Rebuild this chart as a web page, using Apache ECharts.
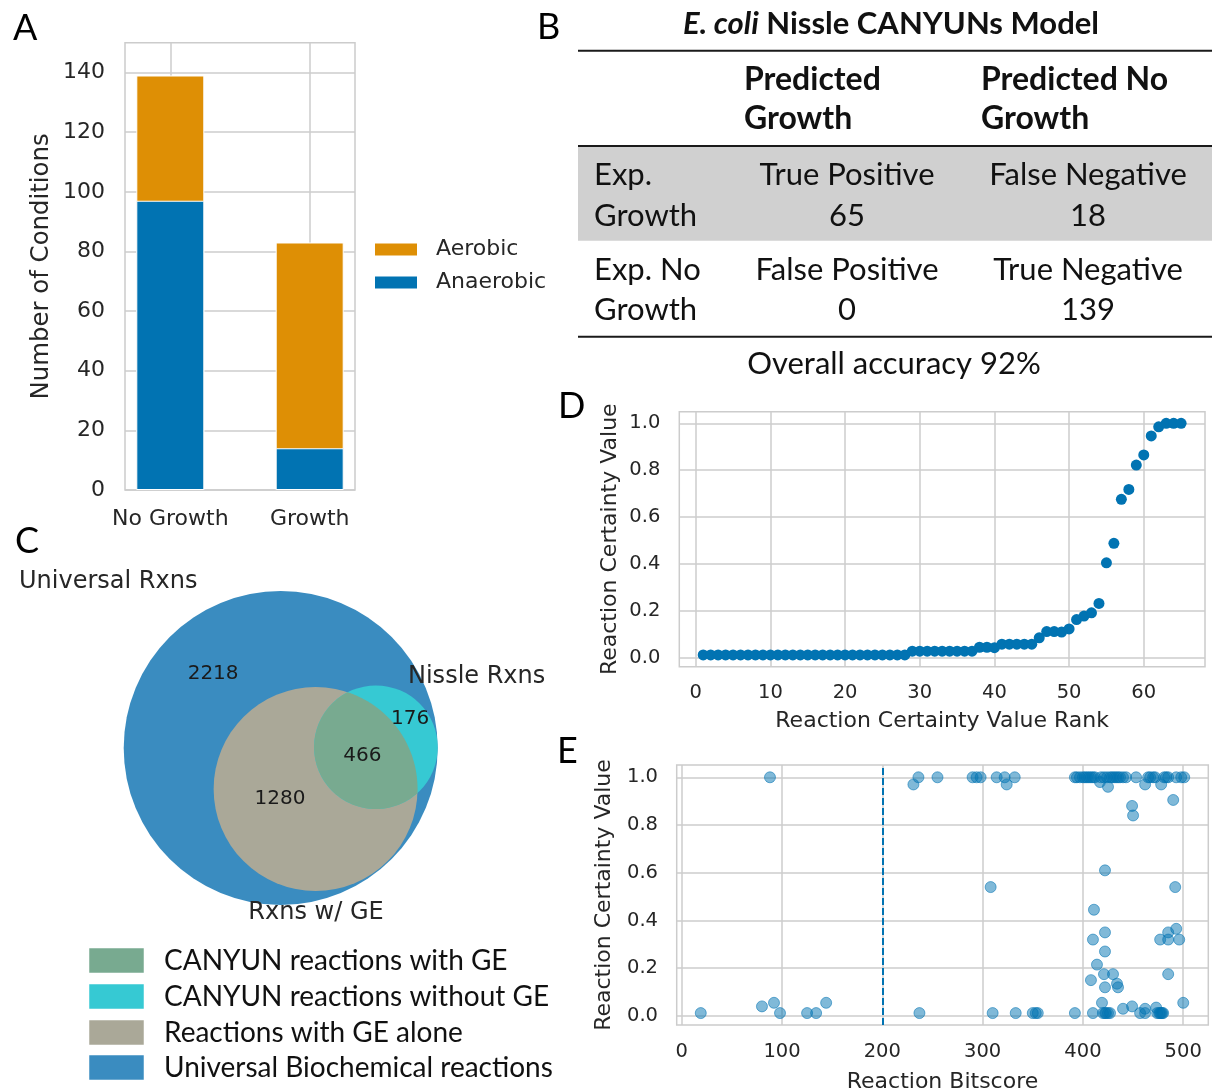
<!DOCTYPE html>
<html>
<head>
<meta charset="utf-8">
<script src="https://cdn.jsdelivr.net/npm/echarts@6/dist/echarts.min.js"></script>
<style>
  html, body { margin: 0; padding: 0; background: #ffffff; }
  #chart { width: 1213px; height: 1091px; }
</style>
</head>
<body>
<div id="chart"></div>
<script>
// ---------- Panel A: growth conditions by oxygen availability ----------
const conditionCategories = ['No Growth', 'Growth'];
const anaerobicCounts = [97, 14];
const aerobicCounts = [42, 69];
const conditionTicks = [0, 20, 40, 60, 80, 100, 120, 140];

// ---------- Panel B: prediction vs experiment ----------
const predictedHeaders = ['Predicted\nGrowth', 'Predicted No\nGrowth'];
const experimentHeaders = ['Exp.\nGrowth', 'Exp. No\nGrowth'];
const outcomeNames = [['True Positive', 'False Negative'], ['False Positive', 'True Negative']];
const outcomeCounts = [[65, 18], [0, 139]];

// ---------- Panel C: reaction sets ----------
const vennSetNames = ['Universal Rxns', 'Rxns w/ GE', 'Nissle Rxns'];
// universal only, with GE only, with GE and in Nissle, in Nissle without GE
const vennRegionCounts = [2218, 1280, 466, 176];
const vennLegendNames = ['CANYUN reactions with GE', 'CANYUN reactions without GE',
                         'Reactions with GE alone', 'Universal Biochemical reactions'];

// ---------- Panel D: certainty values by rank ----------
const rankTicks = [0, 10, 20, 30, 40, 50, 60];
const certaintyTicks = [0, 0.2, 0.4, 0.6, 0.8, 1.0];
const rankedCertainty = [
  0.012, 0.012, 0.012, 0.012, 0.012, 0.012, 0.012, 0.012, 0.012, 0.012,
  0.012, 0.012, 0.012, 0.012, 0.012, 0.012, 0.012, 0.012, 0.012, 0.012,
  0.012, 0.012, 0.012, 0.012, 0.012, 0.012, 0.012, 0.012, 0.028, 0.028,
  0.028, 0.028, 0.028, 0.028, 0.028, 0.028, 0.028, 0.045, 0.045, 0.043,
  0.058, 0.058, 0.058, 0.058, 0.058, 0.085, 0.112, 0.112, 0.110, 0.123,
  0.163, 0.178, 0.192, 0.232, 0.405, 0.488, 0.676, 0.718, 0.822, 0.865,
  0.946, 0.985, 1.0, 1.0, 1.0
];

// ---------- Panel E: certainty vs bitscore ----------
const bitscoreTicks = [0, 100, 200, 300, 400, 500];
const bitscoreCutoff = 200;
const bitscores = [
  19, 80, 88, 92, 98, 125, 134, 144,
  231, 236, 237, 255, 290, 294, 298, 308, 310, 314, 322, 324, 332, 333, 350, 353, 355,
  392, 392, 394, 397, 400, 402, 404, 406, 408, 408, 410, 410, 410, 411, 412, 414, 417, 418, 419, 420,
  421, 421, 422, 422, 422, 422, 422, 423, 424, 425, 425, 427, 427, 429, 430, 431, 433, 434, 435, 435,
  437, 440, 440, 443, 449, 449, 450, 453, 457, 462, 462, 462, 465, 467, 470, 472, 473, 474, 476, 477,
  477, 478, 478, 479, 480, 481, 483, 485, 485, 485, 485, 490, 492, 493, 493, 496, 498, 500, 501
];
const bitscoreCertainty = [
  0.012, 0.04, 1.0, 0.055, 0.012, 0.012, 0.012, 0.055,
  0.97, 1.0, 0.012, 1.0, 1.0, 1.0, 1.0, 0.54, 0.012, 1.0, 1.0, 0.97, 1.0, 0.012, 0.012, 0.012, 0.012,
  1.0, 0.012, 1.0, 1.0, 1.0, 1.0, 1.0, 1.0, 1.0, 0.15, 1.0, 0.32, 0.012, 0.445, 1.0, 0.215, 0.98, 1.0, 0.055, 0.012,
  1.0, 0.175, 0.61, 0.35, 0.27, 0.12, 0.012, 0.012, 1.0, 0.96, 0.012, 1.0, 0.012, 1.0, 0.175, 1.0, 1.0, 0.135, 1.0, 0.12,
  1.0, 1.0, 0.03, 1.0, 0.88, 0.04, 0.84, 1.0, 0.012, 0.97, 0.03, 0.012, 1.0, 1.0, 1.0, 1.0, 0.035, 0.012, 0.012, 0.32,
  0.012, 0.97, 0.012, 0.012, 0.012, 1.0, 1.0, 1.0, 0.35, 0.32, 0.175, 0.905, 0.54, 1.0, 0.365, 0.32, 1.0, 0.055, 1.0
];

// ---------- styling ----------
const PLOT_FONT = 'DejaVu Sans';
const DOC_FONT = 'Lato';
const INK = '#262626';
const GRID_LINE = '#cccccc';
const BLUE = '#0173B2';
const ORANGE = '#DE8F05';
const VENN_COLORS = { universal: '#3a8cc0', ge: '#aaa898', nissle: '#36c9d3', shared: '#78aa90' };

// Venn placement in area units (circle radius = sqrt(set size))
const VENN_LAYOUT = {
  geCenter: [14.3, -16.8],
  nissleAngleDeg: 34.7,
  labelOffsets: [[-27.7, 30.3], [-0.3, -20.9], [33.5, -3.3], [53.0, 11.9]]
};

const setUniversal = vennRegionCounts.reduce((a, b) => a + b, 0);
const setGE = vennRegionCounts[1] + vennRegionCounts[2];
const setNissle = vennRegionCounts[2] + vennRegionCounts[3];
const sharedGN = vennRegionCounts[2];
const vennRadius = Math.sqrt(setUniversal);

function lensArea(r1, r2, d) {
  if (d >= r1 + r2) return 0;
  if (d <= Math.abs(r1 - r2)) return Math.PI * Math.min(r1, r2) ** 2;
  const a1 = Math.acos((d * d + r1 * r1 - r2 * r2) / (2 * d * r1));
  const a2 = Math.acos((d * d + r2 * r2 - r1 * r1) / (2 * d * r2));
  return r1 * r1 * a1 + r2 * r2 * a2 -
    0.5 * Math.sqrt((-d + r1 + r2) * (d + r1 - r2) * (d - r1 + r2) * (d + r1 + r2));
}
function solveDistance(r1, r2, area) {
  let lo = Math.abs(r1 - r2), hi = r1 + r2;
  for (let k = 0; k < 60; k++) {
    const mid = (lo + hi) / 2;
    if (lensArea(r1, r2, mid) > area) lo = mid; else hi = mid;
  }
  return (lo + hi) / 2;
}

function renderVenn(params, api) {
  const rU = Math.sqrt(setUniversal), rG = Math.sqrt(setGE), rN = Math.sqrt(setNissle);
  const cU = [0, 0];
  const cG = VENN_LAYOUT.geCenter;
  const d = solveDistance(rG, rN, Math.PI * sharedGN);
  const ang = VENN_LAYOUT.nissleAngleDeg * Math.PI / 180;
  const cN = [cG[0] + d * Math.cos(ang), cG[1] + d * Math.sin(ang)];
  const px = p => api.coord(p);
  const len = r => api.size([r, 0])[0];
  const circle = (c, r, fill) => {
    const p = px(c);
    return { type: 'circle', shape: { cx: p[0], cy: p[1], r: len(r) }, style: { fill } };
  };
  // overlap of the GE and Nissle circles
  const bG = Math.acos((d * d + rG * rG - rN * rN) / (2 * d * rG));
  const bN = Math.acos((d * d + rN * rN - rG * rG) / (2 * d * rN));
  const pts = [];
  const steps = 120;
  for (let k = 0; k <= steps; k++) {
    const t = ang - bG + 2 * bG * k / steps;
    pts.push(px([cG[0] + rG * Math.cos(t), cG[1] + rG * Math.sin(t)]));
  }
  for (let k = 0; k <= steps; k++) {
    const t = ang + Math.PI - bN + 2 * bN * k / steps;
    pts.push(px([cN[0] + rN * Math.cos(t), cN[1] + rN * Math.sin(t)]));
  }
  const children = [
    circle(cU, rU, VENN_COLORS.universal),
    circle(cG, rG, VENN_COLORS.ge),
    circle(cN, rN, VENN_COLORS.nissle),
    { type: 'polygon', shape: { points: pts }, style: { fill: VENN_COLORS.shared } }
  ];
  vennRegionCounts.forEach((n, i) => {
    const p = px(VENN_LAYOUT.labelOffsets[i]);
    children.push({
      type: 'text', x: p[0], y: p[1],
      style: { text: String(n), fill: '#1a1a1a', fontFamily: PLOT_FONT, fontSize: 20,
               align: 'center', verticalAlign: 'middle', textAlign: 'center', textVerticalAlign: 'middle' }
    });
  });
  return { type: 'group', children };
}

function valueAxisStyle(ticks, fontSize, margin, fmt) {
  return {
    axisLine: { show: false },
    axisTick: { show: false, customValues: ticks },
    axisLabel: { customValues: ticks, color: INK, fontFamily: PLOT_FONT, fontSize, margin, formatter: fmt },
    splitLine: { show: true, lineStyle: { color: GRID_LINE, width: 1.5 } }
  };
}
const nameStyle = size => ({ color: INK, fontFamily: PLOT_FONT, fontSize: size });
const frame = { show: true, borderColor: GRID_LINE, borderWidth: 1.5, backgroundColor: '#ffffff', outerBoundsMode: 'none', containLabel: false };

// ---------- table and annotation graphics ----------
function txt(x, y, text, opts) {
  const o = opts || {};
  return {
    type: 'text', x, y, z: 10,
    style: {
      text, fill: o.fill || '#111111', fontFamily: o.family || DOC_FONT, fontSize: o.size || 31,
      fontWeight: o.weight || 'normal', align: o.align || 'left', textAlign: o.align || 'left',
      verticalAlign: 'middle', textVerticalAlign: 'middle', rich: o.rich
    }
  };
}
const tableLeft = 578, tableRight = 1212;
const ruleYs = [50.7, 146, 336.7];
const graphics = [];
graphics.push({ type: 'rect', z: 5, shape: { x: tableLeft, y: 146, width: tableRight - tableLeft, height: 94.7 }, style: { fill: '#d0d0d0' } });
ruleYs.forEach(y => graphics.push({ type: 'line', z: 6, shape: { x1: tableLeft, y1: y, x2: tableRight, y2: y }, style: { stroke: '#1a1a1a', lineWidth: 2 } }));
graphics.push(txt(891, 24, '{i|E. coli} Nissle CANYUNs Model', {
  align: 'center', weight: 'bold', size: 31,
  rich: { i: { fontStyle: 'italic', fontWeight: 'bold', fontFamily: DOC_FONT, fontSize: 31, fill: '#111111' } }
}));
const headerX = [744, 981];
predictedHeaders.forEach((h, j) => {
  h.split('\n').forEach((line, k) => graphics.push(txt(headerX[j], 80 + 39 * k, line, { weight: 'bold', size: 32 })));
});
const rowY = [[175, 216], [270, 310]];
const cellX = [847, 1088];
experimentHeaders.forEach((h, i) => {
  h.split('\n').forEach((line, k) => graphics.push(txt(594, rowY[i][k], line)));
  outcomeNames[i].forEach((name, j) => {
    graphics.push(txt(cellX[j], rowY[i][0], name, { align: 'center' }));
    graphics.push(txt(cellX[j], rowY[i][1], String(outcomeCounts[i][j]), { align: 'center' }));
  });
});
const correct = outcomeCounts[0][0] + outcomeCounts[1][1];
const total = outcomeCounts[0][0] + outcomeCounts[0][1] + outcomeCounts[1][0] + outcomeCounts[1][1];
graphics.push(txt(894, 364, 'Overall accuracy ' + Math.round(100 * correct / total) + '%', { align: 'center' }));

// panel letters
[['A', 13, 28], ['B', 537, 27], ['C', 15, 541], ['D', 558, 406], ['E', 557, 751]].forEach(([t, x, y]) =>
  graphics.push(txt(x, y, t, { size: 36, fill: '#000000' })));

// venn set labels
graphics.push(txt(19, 582, vennSetNames[0], { family: PLOT_FONT, size: 24, fill: INK }));
graphics.push(txt(316, 913, vennSetNames[1], { family: PLOT_FONT, size: 24, fill: INK, align: 'center' }));
graphics.push(txt(408, 677, vennSetNames[2], { family: PLOT_FONT, size: 24, fill: INK }));

// venn legend
const legendColors = [VENN_COLORS.shared, VENN_COLORS.nissle, VENN_COLORS.ge, VENN_COLORS.universal];
const legendTops = [948, 984, 1020, 1055];
vennLegendNames.forEach((name, i) => {
  graphics.push({ type: 'rect', z: 10, shape: { x: 89, y: legendTops[i], width: 55, height: 25 },
                  style: { fill: legendColors[i], stroke: 'rgba(255,255,255,0.5)', lineWidth: 1 } });
  graphics.push(txt(164, legendTops[i] + 12.5, name, { size: 28, fill: '#111111' }));
});

// stacked heights: the aerobic segment sits on top of the anaerobic one
const stackedTotals = anaerobicCounts.map((v, i) => v + aerobicCounts[i]);

const option = {
  backgroundColor: '#ffffff',
  animation: false,
  legend: {
    data: ['Aerobic', 'Anaerobic'], orient: 'vertical', left: 373, top: 238.5, padding: 0,
    itemWidth: 44, itemHeight: 14, itemGap: 11, icon: 'rect', selectedMode: false,
    textStyle: { color: INK, fontFamily: PLOT_FONT, fontSize: 22, padding: [0, 0, 0, 13] }
  },
  grid: [
    Object.assign({ left: 125, top: 42.7, width: 230, height: 447.3 }, frame),
    Object.assign({ left: 679.3, top: 411.7, width: 525.7, height: 255 }, frame),
    Object.assign({ left: 676.7, top: 765, width: 531.6, height: 260 }, frame),
    { left: 280.7 - 157, top: 748 - 157, width: 314, height: 314, show: false, outerBoundsMode: 'none', containLabel: false }
  ],
  xAxis: [
    Object.assign({ gridIndex: 0, type: 'value', min: -0.325, max: 1.325 },
      valueAxisStyle([0, 1], 22, 18, v => conditionCategories[Math.round(v)])),
    Object.assign({ gridIndex: 1, type: 'value', min: -2.2, max: 68.2,
      name: 'Reaction Certainty Value Rank', nameLocation: 'middle', nameGap: 44, nameTextStyle: nameStyle(22) },
      valueAxisStyle(rankTicks, 19.5, 16, v => String(v))),
    Object.assign({ gridIndex: 2, type: 'value', min: -5, max: 525,
      name: 'Reaction Bitscore', nameLocation: 'middle', nameGap: 46, nameTextStyle: nameStyle(22) },
      valueAxisStyle(bitscoreTicks, 19.5, 17, v => String(v))),
    { gridIndex: 3, type: 'value', min: -vennRadius, max: vennRadius, show: false }
  ],
  yAxis: [
    Object.assign({ gridIndex: 0, type: 'value', min: 0, max: 150,
      name: 'Number of Conditions', nameLocation: 'middle', nameGap: 71, nameTextStyle: nameStyle(24.4) },
      valueAxisStyle(conditionTicks, 22, 20, v => String(v))),
    Object.assign({ gridIndex: 1, type: 'value', min: -0.038, max: 1.0495,
      name: 'Reaction Certainty Value', nameLocation: 'middle', nameGap: 58, nameTextStyle: nameStyle(22) },
      valueAxisStyle(certaintyTicks, 19.5, 19, v => v.toFixed(1))),
    Object.assign({ gridIndex: 2, type: 'value', min: -0.038, max: 1.0515,
      name: 'Reaction Certainty Value', nameLocation: 'middle', nameGap: 61, nameTextStyle: nameStyle(22) },
      valueAxisStyle(certaintyTicks, 19.5, 18.7, v => v.toFixed(1))),
    { gridIndex: 3, type: 'value', min: -vennRadius, max: vennRadius, show: false }
  ],
  series: [
    {
      name: 'Aerobic', type: 'bar', xAxisIndex: 0, yAxisIndex: 0, barWidth: 68, barGap: '-100%',
      data: conditionCategories.map((c, i) => [i, stackedTotals[i]]),
      itemStyle: { color: ORANGE, borderColor: '#ffffff', borderWidth: 1 }, silent: true
    },
    {
      name: 'Anaerobic', type: 'bar', xAxisIndex: 0, yAxisIndex: 0, barWidth: 68, barGap: '-100%',
      data: conditionCategories.map((c, i) => [i, anaerobicCounts[i]]),
      itemStyle: { color: BLUE, borderColor: '#ffffff', borderWidth: 1 }, silent: true
    },
    {
      name: 'Ranked certainty', type: 'scatter', xAxisIndex: 1, yAxisIndex: 1, symbolSize: 11,
      data: rankedCertainty.map((v, i) => [i + 1, v]),
      itemStyle: { color: BLUE, opacity: 1 }, silent: true
    },
    {
      name: 'Bitscore certainty', type: 'scatter', xAxisIndex: 2, yAxisIndex: 2, symbolSize: 11,
      data: bitscores.map((b, i) => [b, bitscoreCertainty[i]]),
      itemStyle: { color: 'rgba(1,115,178,0.5)', borderColor: 'rgba(1,115,178,0.55)', borderWidth: 1, opacity: 1 },
      silent: true,
      markLine: {
        silent: true, symbol: ['none', 'none'], label: { show: false },
        lineStyle: { color: BLUE, type: [7, 3], width: 2 },
        data: [{ xAxis: bitscoreCutoff }]
      }
    },
    {
      name: 'Reaction sets', type: 'custom', xAxisIndex: 3, yAxisIndex: 3, silent: true, clip: false,
      data: [[0, 0]], renderItem: renderVenn
    }
  ],
  graphic: graphics
};

const chart = echarts.init(document.getElementById('chart'), null, { renderer: 'canvas', width: 1213, height: 1091 });
chart.setOption(option);
</script>
</body>
</html>
